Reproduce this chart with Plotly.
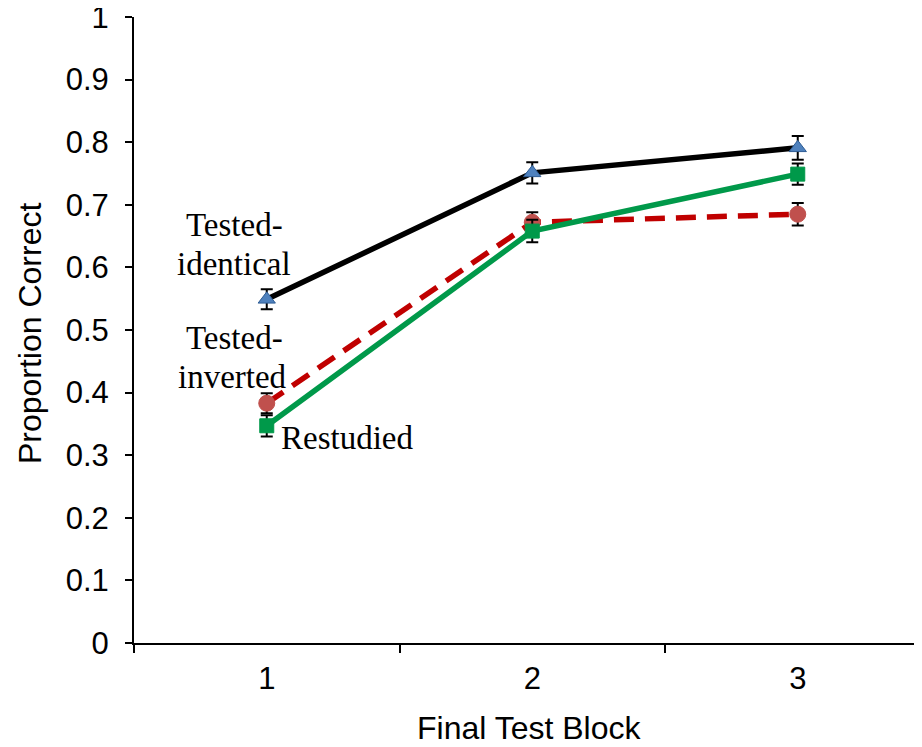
import plotly.graph_objects as go

blocks = [1, 2, 3]
tick_text = ["1", "2", "3"]
tested_identical = [0.549, 0.751, 0.791]
tested_identical_err = [0.016, 0.017, 0.019]
tested_inverted = [0.383, 0.672, 0.685]
tested_inverted_err = [0.016, 0.016, 0.018]
restudied = [0.347, 0.658, 0.749]
restudied_err = [0.017, 0.018, 0.017]

fig = go.Figure()

def add(y, err, line_color, dash, marker_symbol, marker_color, marker_line, msize):
    fig.add_trace(go.Scatter(
        x=blocks, y=y, mode="lines+markers",
        line=dict(color=line_color, width=5.5, dash=dash),
        marker=dict(symbol=marker_symbol, color=marker_color, size=msize,
                    line=dict(color=marker_line, width=1)),
        error_y=dict(type="data", array=err, visible=True, color="black",
                     thickness=2, width=6),
        showlegend=False,
    ))

add(tested_identical, tested_identical_err, "#000000", "solid", "triangle-up", "#4F81BD", "#2E5C94", 15)
add(tested_inverted, tested_inverted_err, "#C00000", "20px,11px", "circle", "#C0504D", "#C0504D", 16)
add(restudied, restudied_err, "#00994A", "solid", "square", "#00994A", "#00994A", 14)

serif = dict(family="Liberation Serif, Times New Roman, serif", size=33, color="black")
labels = [
    ("Tested-", 0.879, 0.668),
    ("identical", 0.877, 0.605),
    ("Tested-", 0.879, 0.487),
    ("inverted", 0.871, 0.425),
    ("Restudied", 1.302, 0.327),
]
for txt, lx, ly in labels:
    fig.add_annotation(x=lx, y=ly, text=txt, showarrow=False, font=serif,
                       xref="x", yref="y", xanchor="center", yanchor="middle")

sans = "Liberation Sans, Arial, sans-serif"
fig.add_annotation(x=0.5025, y=-0.1358, xref="paper", yref="paper",
                   text="Final Test Block", showarrow=False,
                   xanchor="center", yanchor="middle",
                   font=dict(size=32, family=sans, color="black"))
fig.add_annotation(x=-0.132, y=0.495, xref="paper", yref="paper",
                   text="Proportion Correct", showarrow=False, textangle=-90,
                   xanchor="center", yanchor="middle",
                   font=dict(size=32, family=sans, color="black"))

fig.update_layout(
    width=914, height=739,
    margin=dict(l=126, r=0, t=9, b=104),
    plot_bgcolor="white", paper_bgcolor="white",
    font=dict(family=sans, color="black"),
    xaxis=dict(
        range=[0.5, 3.468], automargin=False,
        tickvals=blocks, ticktext=tick_text,
        ticks="", showgrid=False, zeroline=False,
        showline=True, linecolor="black", linewidth=2,
        tickfont=dict(size=31, family=sans),
        ticklabelstandoff=7, ticklabeloverflow="allow",
        minor=dict(tickvals=[0.5, 1.5, 2.5], ticks="outside", ticklen=8,
                   tickwidth=2, tickcolor="black", showgrid=False),
    ),
    yaxis=dict(
        range=[0, 1], automargin=False,
        tickvals=[0, 0.1, 0.2, 0.3, 0.4, 0.5, 0.6, 0.7, 0.8, 0.9, 1],
        ticktext=["0", "0.1", "0.2", "0.3", "0.4", "0.5", "0.6", "0.7", "0.8", "0.9", "1"],
        ticks="outside", ticklen=7, tickwidth=2, tickcolor="black",
        showgrid=False, zeroline=False,
        showline=True, linecolor="black", linewidth=2,
        tickfont=dict(size=31, family=sans),
        ticklabelstandoff=10, ticklabeloverflow="allow",
    ),
)

fig.write_html("out.html")
